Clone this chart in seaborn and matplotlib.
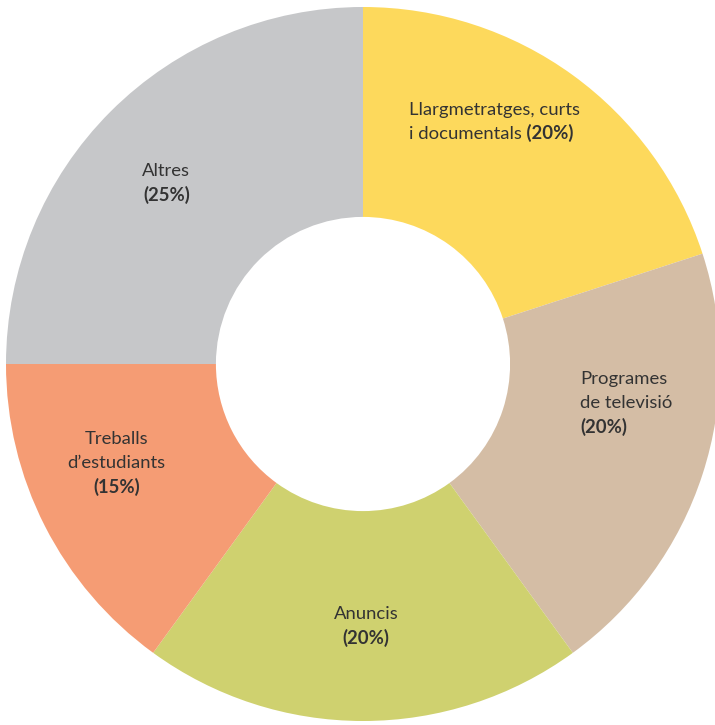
import matplotlib
matplotlib.use("Agg")
import matplotlib.pyplot as plt
import seaborn as sns

categories = ["Llargmetratges, curts\ni documentals", "Programes\nde televisió",
              "Anuncis", "Treballs\nd’estudiants", "Altres"]
shares = [20, 20, 20, 15, 25]
colors = ["#FDD95C", "#D4BDA5", "#CFD16F", "#F59C74", "#C6C7C9"]

sns.set_theme(style="white")
plt.rcParams["font.family"] = ["Lato", "DejaVu Sans"]

W, H = 715, 725
cx, cy, R = 363, 364, 357  # pixel centre and radius of the ring

fig = plt.figure(figsize=(W / 100, H / 100), dpi=100)
ax = fig.add_axes([(cx - R) / W, (H - cy - R) / H, 2 * R / W, 2 * R / H])

ax.pie(shares, colors=colors, startangle=90, counterclock=False, radius=1,
       wedgeprops=dict(width=0.588, edgecolor="none", linewidth=0))
ax.set_xlim(-1, 1)
ax.set_ylim(-1, 1)
ax.set_aspect("equal")
ax.axis("off")

# label anchors (data units), alignment and whether % sits on the last name line
anchors = [(0.128, 0.711, "left", True),
           (0.608, -0.042, "left", False),
           (0.008, -0.700, "center", False),
           (-0.690, -0.211, "center", False),
           (-0.551, 0.542, "center", False)]
step = 24 / R
txt_color = "#333333"
fs = 13.3

for name, val, (x, y, ha, inline) in zip(categories, shares, anchors):
    lines = name.split("\n")
    last = None
    for i, ln in enumerate(lines):
        last = ax.text(x, y - i * step, ln, ha=ha, va="center", fontsize=fs,
                       color=txt_color)
    pct = f"({val}%)"
    if inline:
        ax.annotate(" " + pct, xy=(1, 0), xycoords=last, ha="left", va="bottom",
                    fontsize=fs, fontweight="bold", color=txt_color)
    else:
        ax.text(x, y - len(lines) * step, pct, ha=ha, va="center", fontsize=fs,
                fontweight="bold", color=txt_color)

fig.savefig("out.png", dpi=100, facecolor="white")
